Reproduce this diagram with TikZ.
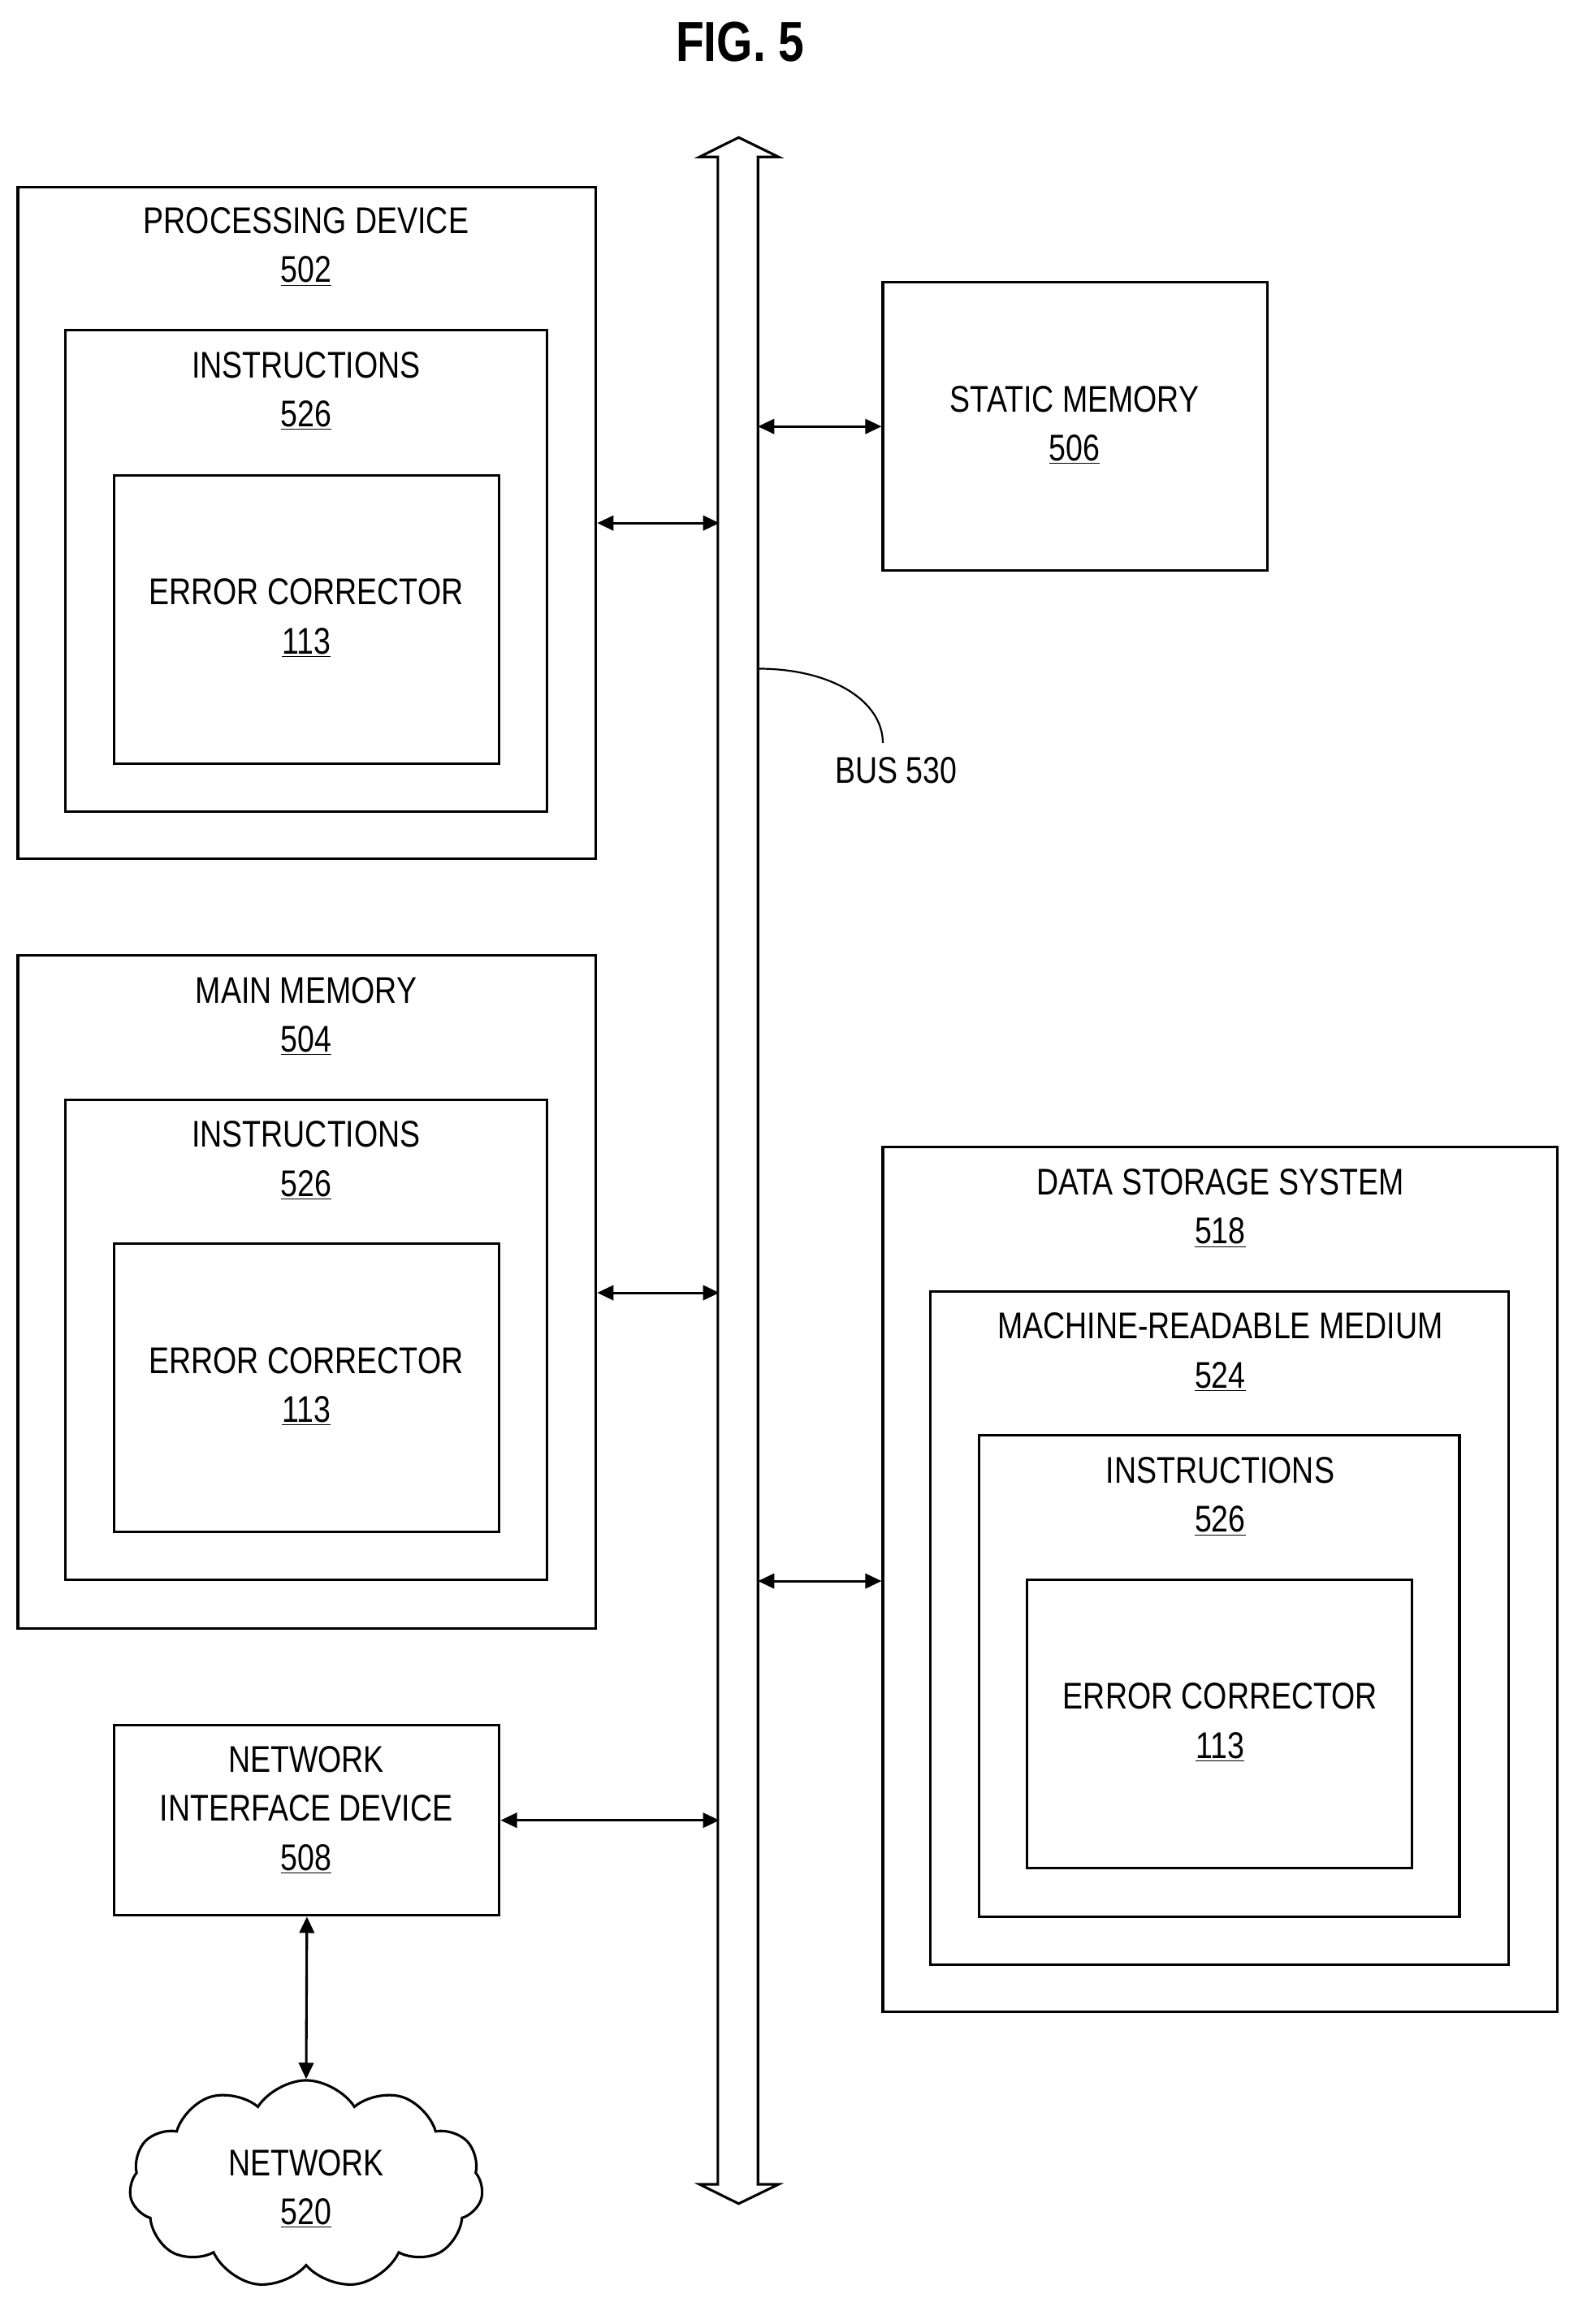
\documentclass[tikz,border=0pt]{standalone}
\usepackage{fontspec}
\setmainfont{Liberation Sans}[FakeStretch=0.82]
\usetikzlibrary{arrows.meta,shapes.symbols}
\begin{document}
\begin{tikzpicture}[x=1pt,y=-1pt,line width=1.7pt,
  box/.style={draw,rectangle,inner sep=0pt},
  lbl/.style={align=center,font=\fontsize{25}{33}\selectfont,inner sep=0pt},
  arr/.style={{Triangle[length=11pt,width=10pt]}-{Triangle[length=11pt,width=10pt]}}]
\useasboundingbox (0,0) rectangle (1059,1564);
\newcommand{\bx}[5]{\node[box,minimum width=#4-#2,minimum height=#5-#3] (#1) at ({(#2+#4)/2},{(#3+#5)/2}) {};}
\node[font=\fontsize{38}{40}\bfseries\selectfont] (fig) at (498,28) {FIG. 5};
% processing device
\bx{pd}{12}{126}{401}{578}
\bx{pdi}{44}{222}{368}{546}
\bx{pde}{77}{320}{336}{514}
\node[lbl] (pdt) at (206,166) {PROCESSING DEVICE\\\underline{502}};
\node[lbl] (pdit) at (206,263) {INSTRUCTIONS\\\underline{526}};
\node[lbl] (pdet) at (206,416) {ERROR CORRECTOR\\\underline{113}};
% main memory
\bx{mm}{12}{643}{401}{1096}
\bx{mmi}{44}{740}{368}{1063}
\bx{mme}{77}{837}{336}{1031}
\node[lbl] (mmt) at (206,684) {MAIN MEMORY\\\underline{504}};
\node[lbl] (mmit) at (206,781) {INSTRUCTIONS\\\underline{526}};
\node[lbl] (mmet) at (206,933) {ERROR CORRECTOR\\\underline{113}};
% static memory
\bx{sm}{594}{190}{853}{384}
\node[lbl] (smt) at (723,286) {STATIC MEMORY\\\underline{506}};
% data storage
\bx{ds}{594}{772}{1048}{1354}
\bx{dsm}{626}{869}{1015}{1322}
\bx{dsi}{659}{966}{982}{1290}
\bx{dse}{691}{1063}{950}{1257}
\node[lbl] (dst) at (821,813) {DATA STORAGE SYSTEM\\\underline{518}};
\node[lbl] (dsmt) at (821,910) {MACHINE-READABLE MEDIUM\\\underline{524}};
\node[lbl] (dsit) at (821,1007) {INSTRUCTIONS\\\underline{526}};
\node[lbl] (dset) at (821,1159) {ERROR CORRECTOR\\\underline{113}};
% NID
\bx{nid}{77}{1161}{336}{1289}
\node[lbl] (nidt) at (206,1218) {NETWORK\\INTERFACE DEVICE\\\underline{508}};
% network cloud
\node[cloud,draw,cloud puffs=11,cloud puff arc=115,aspect=1.75,minimum width=238,minimum height=140,inner sep=0pt] (net) at (206,1470) {};
\node[lbl] (nett) at (206,1473) {NETWORK\\\underline{520}};
% bus
\draw[line join=miter] (483,1470) -- (483,105.6) -- (470.7,105.6) -- (497,92.5) -- (523.8,105.6) -- (510,105.6)
  -- (510,1470) -- (523.8,1470) -- (497,1483) -- (470.7,1470) -- cycle;
\coordinate (bpd) at (484,352); \coordinate (bsm) at (510,287);
\coordinate (bmm) at (484,870); \coordinate (bds) at (510,1064);
\coordinate (bnid) at (484,1225); \coordinate (bc) at (510,450);
\draw[arr] (pd.east |- bpd) -- (bpd);
\draw[arr] (bsm) -- (sm.west |- bsm);
\draw[arr] (mm.east |- bmm) -- (bmm);
\draw[arr] (bds) -- (ds.west |- bds);
\draw[arr] (nid.east |- bnid) -- (bnid);
\draw[arr] (nid.south) -- (net.north);
\node[lbl,anchor=north] (bus) at (603,509) {BUS 530};
\draw[line width=1.2pt] (bc) .. controls (560,450) and (594,472) .. (594,500);
\end{tikzpicture}
\end{document}
